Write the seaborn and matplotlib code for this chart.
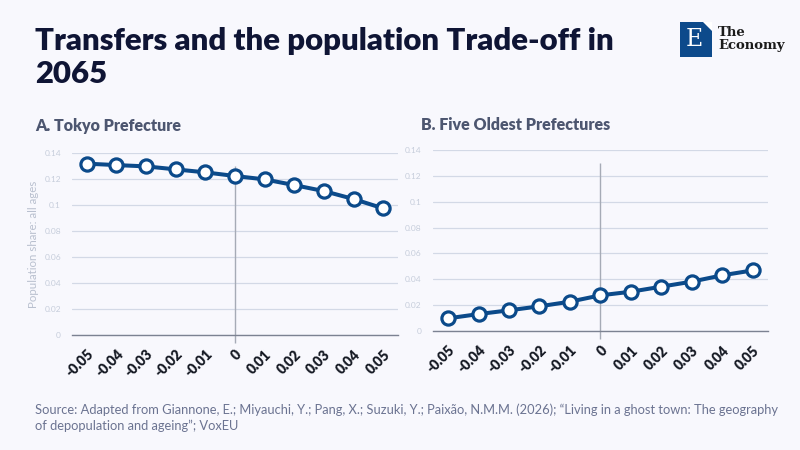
import matplotlib
matplotlib.use('Agg')
import matplotlib.pyplot as plt
import seaborn as sns
import pandas as pd
from matplotlib.patches import Rectangle, Polygon

# Данные
transfer = [-0.05, -0.04, -0.03, -0.02, -0.01, 0.0, 0.01, 0.02, 0.03, 0.04, 0.05]
x_labels = ['-0.05', '-0.04', '-0.03', '-0.02', '-0.01', '0', '0.01', '0.02', '0.03', '0.04', '0.05']
tokyo = [0.1318, 0.1307, 0.1297, 0.1274, 0.1251, 0.1223, 0.1197, 0.1153, 0.1107, 0.1046, 0.0974]
oldest = [0.0098, 0.0131, 0.0160, 0.0191, 0.0227, 0.0276, 0.0304, 0.0343, 0.0382, 0.0431, 0.0469]
y_ticks = [0, 0.02, 0.04, 0.06, 0.08, 0.1, 0.12, 0.14]
y_labels = ['0', '0.02', '0.04', '0.06', '0.08', '0.1', '0.12', '0.14']

title = 'Transfers and the population Trade-off in\n2065'
panel_a = 'A. Tokyo Prefecture'
panel_b = 'B. Five Oldest Prefectures'
y_title = 'Population share: all ages'
source = ('Source: Adapted from Giannone, E.; Miyauchi, Y.; Pang, X.; Suzuki, Y.; Paixão, N.M.M. (2026); '
          '\u201cLiving in a ghost town: The geography\nof depopulation and ageing\u201d; VoxEU')

BG = '#f8f8fd'
LINE = '#0b4a8a'

sns.set_theme(style='white')
plt.rcParams['font.family'] = ['Lato', 'DejaVu Sans']

fig = plt.figure(figsize=(8, 4.5), dpi=100, facecolor=BG)


def plot_panel(rect, values, with_ylabel):
    ax = fig.add_axes(rect, facecolor=BG)
    df = pd.DataFrame({'x': transfer, 'y': values})
    sns.lineplot(data=df, x='x', y='y', ax=ax, color=LINE, linewidth=2.9,
                 marker='o', markersize=9.5, markerfacecolor='white',
                 markeredgecolor=LINE, markeredgewidth=2.3, zorder=5, clip_on=False)
    ax.set_xlim(-0.055, 0.055)
    ax.set_ylim(0, 0.14)
    ax.set_yticks(y_ticks)
    ax.set_yticklabels(y_labels, fontsize=6, color='#c6cddb')
    ax.set_xticks(transfer)
    ax.set_xticklabels(x_labels, fontsize=10, fontweight='heavy', color='#161a24',
                       rotation=45, ha='right', rotation_mode='anchor')
    ax.tick_params(axis='both', length=0)
    ax.tick_params(axis='x', pad=9)
    ax.tick_params(axis='y', pad=8)
    ax.grid(axis='y', color='#d3d9e6', linewidth=0.9)
    for s in ['top', 'right', 'left']:
        ax.spines[s].set_visible(False)
    ax.spines['bottom'].set_color('#7c8292')
    ax.spines['bottom'].set_linewidth(1)
    ax.vlines(0, -0.006, 0.13, color='#a6abb6', linewidth=1, zorder=2, clip_on=False)
    ax.set_xlabel('')
    if with_ylabel:
        ax.set_ylabel(y_title, fontsize=8.3, color='#b9c0cf', labelpad=4)
    else:
        ax.set_ylabel('')
    return ax


plot_panel([0.09, 0.2556, 0.4075, 0.4044], tokyo, True)
plot_panel([0.541, 0.2644, 0.419, 0.4022], oldest, False)

fig.text(0.044, 0.94, title, fontsize=22.4, fontweight='heavy', color='#0f1535',
         va='top', ha='left', linespacing=1.2)
fig.text(0.044, 0.71, panel_a, fontsize=11.5, fontweight='heavy', color='#4d5670')
fig.text(0.526, 0.71, panel_b, fontsize=11.5, fontweight='heavy', color='#4d5670')
fig.text(0.044, 0.04, source, fontsize=9.3, color='#6b7391', va='bottom', linespacing=1.35)

# логотип
fig.patches.append(Rectangle((680 / 800, 1 - 57 / 450), 32 / 800, 35 / 450,
                             transform=fig.transFigure, facecolor='#0d4a8b', edgecolor='none'))
fig.patches.append(Polygon([(703 / 800, 1 - 22 / 450), (712 / 800, 1 - 22 / 450), (712 / 800, 1 - 31 / 450)],
                           closed=True, transform=fig.transFigure, facecolor='white', edgecolor='none'))
fig.text(694 / 800, 1 - 40 / 450, 'E', fontsize=17, family='DejaVu Serif', color='white',
         ha='center', va='center')
fig.text(718 / 800, 1 - 39 / 450, 'The\nEconomy', fontsize=9.5, family='DejaVu Serif',
         fontweight='bold', color='#1a1a1a', ha='left', va='center', linespacing=1.1)

fig.savefig('out.png', dpi=100, facecolor=BG)
